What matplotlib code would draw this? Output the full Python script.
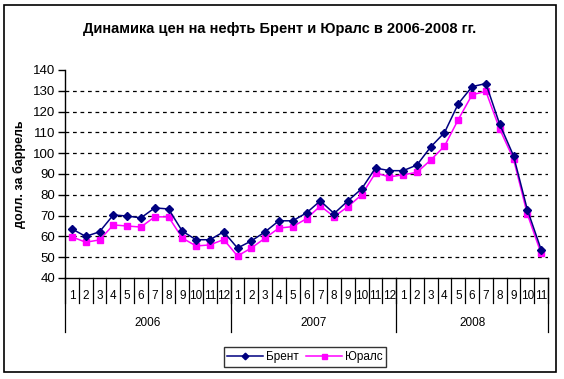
import matplotlib
matplotlib.use("Agg")
import matplotlib.pyplot as plt
import matplotlib.transforms as mtransforms
from matplotlib.patches import Rectangle

plt.rcParams['font.family'] = ['Liberation Sans', 'DejaVu Sans']

# ========== Data ==========
years = ['2006', '2007', '2008']
months_per_year = [12, 12, 11]
brent = [63.6, 60.0, 62.2, 70.3, 69.8, 68.9, 73.7, 73.2, 62.5, 58.4, 58.4, 62.2,
         54.4, 57.8, 62.2, 67.5, 67.5, 71.3, 77.1, 71.0, 77.1, 82.9, 92.9, 91.6,
         91.6, 94.3, 103.0, 109.9, 123.8, 132.0, 133.5, 113.9, 98.8, 72.9, 53.7]
urals = [59.8, 57.2, 58.3, 65.5, 65.0, 64.5, 69.4, 69.4, 59.2, 55.4, 55.9, 58.5,
         50.6, 54.4, 59.2, 64.0, 64.7, 68.5, 74.6, 69.5, 74.3, 80.0, 90.5, 88.6,
         89.6, 90.8, 96.7, 103.4, 116.2, 128.1, 129.7, 111.6, 97.2, 70.8, 51.8]
y_ticks = list(range(40, 141, 10))
title = 'Динамика цен на нефть Брент и Юралс в 2006-2008 гг.'
ylabel = 'долл. за баррель'

W, H = 564, 379
fig = plt.figure(figsize=(W / 100, H / 100), dpi=100)

# plot area in pixels
x0, x1, ytop, ybot = 65, 548, 70, 278
ax = fig.add_axes([x0 / W, 1 - ybot / H, (x1 - x0) / W, (ybot - ytop) / H])

n = len(brent)
xs = [i + 0.5 for i in range(n)]
ax.set_xlim(0, n)
ax.set_ylim(40, 140)

# grid lines
for v in y_ticks[1:-1]:
    ax.axhline(v, color='black', lw=0.9, ls=(0, (3, 3)), zorder=1)

ax.plot(xs, brent, color='#000080', lw=1.1, marker='D', ms=4.2, label='Брент', zorder=3)
ax.plot(xs, urals, color='#FF00FF', lw=1.1, marker='s', ms=4.5, label='Юралс', zorder=2)

for s in ['top', 'right']:
    ax.spines[s].set_visible(False)
ax.spines['left'].set_linewidth(1.0)
ax.spines['bottom'].set_linewidth(1.0)

ax.set_yticks(y_ticks)
ax.set_yticklabels([str(v) for v in y_ticks], fontsize=9.5)
ax.tick_params(axis='y', length=5, width=1, pad=2)
ax.set_xticks([])

ax.set_ylabel(ylabel, fontsize=9, fontweight='bold', labelpad=5)

# category axis: months and years
trans = mtransforms.blended_transform_factory(ax.transData, ax.transAxes)
ph = ybot - ytop


def ax_y(py):
    return (ybot - py) / ph


for i in range(n + 1):
    ax.plot([i, i], [0, ax_y(303)], color='black', lw=0.9, transform=trans, clip_on=False)

start = 0
for yr, cnt in zip(years, months_per_year):
    for m in range(cnt):
        ax.text(start + m + 0.5, ax_y(296), str(m + 1), transform=trans,
                ha='center', va='center', fontsize=8.5)
    ax.plot([start, start], [0, ax_y(332)], color='black', lw=0.9, transform=trans, clip_on=False)
    ax.text(start + cnt / 2, ax_y(323), yr, transform=trans,
            ha='center', va='center', fontsize=8.5)
    start += cnt
ax.plot([start, start], [0, ax_y(332)], color='black', lw=0.9, transform=trans, clip_on=False)

fig.text(280 / W, 1 - 29 / H, title, ha='center', va='center', fontsize=10.5, fontweight='bold')

leg = fig.legend(loc='center', bbox_to_anchor=(305 / W, 1 - 357 / H), ncol=2, fontsize=8.5,
                 frameon=True, fancybox=False, edgecolor='black', handlelength=3,
                 columnspacing=0.6, handletextpad=0.3, borderpad=0.3, markerscale=0.8)
leg.get_frame().set_linewidth(1.0)

# outer chart border
fig.patches.append(Rectangle((4 / W, 1 - 372 / H), 552 / W, 367 / H, transform=fig.transFigure,
                             fill=False, edgecolor='black', lw=1.2))

fig.savefig('out.png', dpi=100)
